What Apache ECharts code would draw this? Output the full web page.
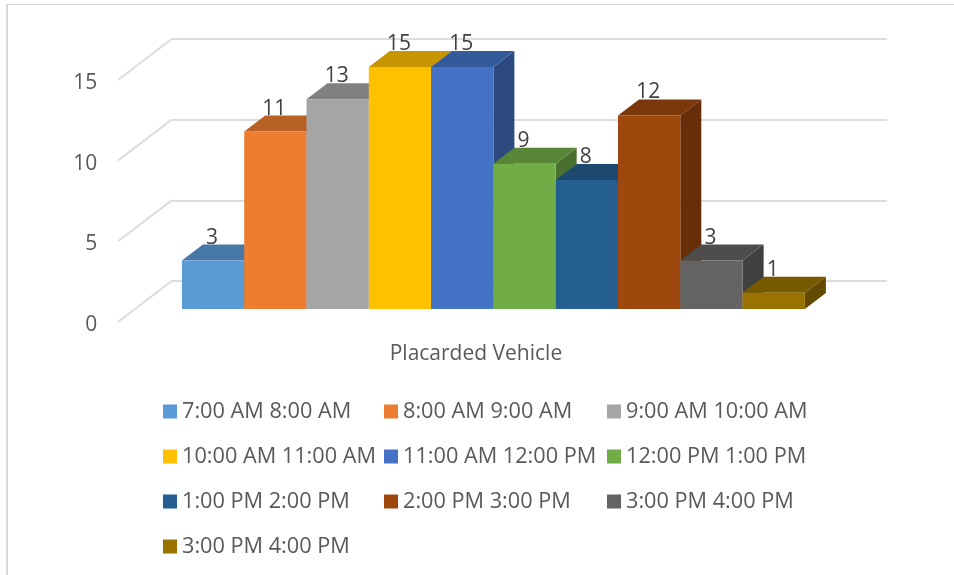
<!DOCTYPE html>
<html>
<head>
<meta charset="utf-8">
<style>html,body{margin:0;padding:0;background:#fff}#chart{width:954px;height:575px}</style>
<script src="https://cdn.jsdelivr.net/npm/echarts@6/dist/echarts.min.js"></script>
</head>
<body>
<div id="chart"></div>
<script>
// Vehicle counts per one-hour window, drawn as a faux 3D column chart.
const categoryLabels = ['Placarded Vehicle'];
const seriesNames = ['7:00 AM 8:00 AM','8:00 AM 9:00 AM','9:00 AM 10:00 AM','10:00 AM 11:00 AM','11:00 AM 12:00 PM','12:00 PM 1:00 PM','1:00 PM 2:00 PM','2:00 PM 3:00 PM','3:00 PM 4:00 PM','3:00 PM 4:00 PM'];
const seriesValues = [3,11,13,15,15,9,8,12,3,1];
const frontColors = ['#5B9BD5','#ED7D31','#A5A5A5','#FFC000','#4472C4','#70AD47','#255E91','#9E480E','#636363','#997300'];
const topColors = ['#4878A6','#B86125','#808080','#C69500','#355A9B','#578637','#1D4971','#7B380B','#4D4D4D','#775900'];
const sideColors = ['#3B6389','#9B5120','#6B6B6B','#A67D00','#2C4A80','#49702E','#183D5F','#662F09','#404040','#634A00'];
const axisTicks = [0,5,10,15];

const DEPTH_X = 21, DEPTH_Y = 16;       // column depth in pixels
const WALL_X = 53.4, WALL_Y = 40.7;     // floor run from the front plane to the back wall
const BAR_SPAN = 0.87096;               // share of the band filled by the columns
const FONT = '"Open Sans"';
const GREY = '#595959';
const GRID_GREY = '#DDDDDD';

// One column: front face, top face, right face and its value label.
function columnRenderer(index) {
  return function (params, api) {
    const value = api.value(1);
    const top = api.coord([0, value]);
    const base = api.coord([0, 0]);
    const band = api.size([1, 0])[0];
    const w = band * BAR_SPAN / seriesValues.length;
    const x0 = top[0] - w * seriesValues.length / 2 + w * index;
    const x1 = x0 + w;
    const poly = (pts, fill) => ({ type: 'polygon', shape: { points: pts }, style: { fill: fill } });
    return {
      type: 'group',
      children: [
        poly([[x1, top[1]], [x1 + DEPTH_X, top[1] - DEPTH_Y], [x1 + DEPTH_X, base[1] - DEPTH_Y], [x1, base[1]]], sideColors[index]),
        poly([[x0, top[1]], [x0 + DEPTH_X, top[1] - DEPTH_Y], [x1 + DEPTH_X, top[1] - DEPTH_Y], [x1, top[1]]], topColors[index]),
        poly([[x0, base[1]], [x0, top[1]], [x1, top[1]], [x1, base[1]]], frontColors[index]),
        {
          type: 'text', z2: 10,
          style: {
            text: String(value), x: (x0 + x1) / 2 - 1, y: top[1] - DEPTH_Y + 3.5,
            align: 'center', verticalAlign: 'bottom',
            fill: '#404040', font: '21px ' + FONT
          }
        }
      ]
    };
  };
}

// Diagonals running forward from the back wall's gridlines along the side wall.
function diagonalRenderer(params, api) {
  const p = api.coord([0, api.value(1)]);
  const x = p[0] - api.size([1, 0])[0] / 2;
  return {
    type: 'line',
    shape: { x1: x, y1: p[1], x2: x - WALL_X, y2: p[1] + WALL_Y },
    style: { stroke: GRID_GREY, lineWidth: 2 }
  };
}

const columnSeries = seriesNames.map((name, i) => ({
  name: name,
  type: 'custom',
  xAxisIndex: 2, yAxisIndex: 2,
  z: 5 + i,
  itemStyle: { color: frontColors[i] },
  encode: { x: 0, y: 1 },
  renderItem: columnRenderer(i),
  data: [[0, seriesValues[i]]]
}));

const legendColumn = (left, idx) => ({
  left: left, top: 400.5, orient: 'vertical', selectedMode: false,
  itemWidth: 14, itemHeight: 14, itemGap: 23, padding: 0,
  icon: 'rect',
  textStyle: { fontFamily: FONT, fontSize: 21.7, color: GREY },
  data: idx.map(i => ({ name: seriesNames[i], itemStyle: { color: frontColors[i] } }))
});

const chart = echarts.init(document.getElementById('chart'), null, { renderer: 'canvas' });
chart.setOption({
  animation: false,
  backgroundColor: '#fff',
  // Thin frame along the top and left edges of the chart area.
  graphic: [
    { type: 'rect', shape: { x: 6, y: 4, width: 948, height: 1 }, style: { fill: '#D9D9D9' }, silent: true },
    { type: 'rect', shape: { x: 6, y: 4, width: 2, height: 571 }, style: { fill: '#D9D9D9' }, silent: true }
  ],
  legend: [
    legendColumn(163, [0, 3, 6, 9]),
    legendColumn(384, [1, 4, 7]),
    legendColumn(607, [2, 5, 8])
  ],
  grid: [
    { left: 171.7, top: 39, width: 715.3, height: 242 },    // back wall
    { left: 118.3, top: 83, width: 715.3, height: 241.7 },  // front plane, carries the labels
    { left: 135.75, top: 67, width: 715.3, height: 242 }    // column plane
  ],
  xAxis: [
    { gridIndex: 0, type: 'category', data: categoryLabels, axisLine: { show: false }, axisTick: { show: false }, axisLabel: { show: false } },
    { gridIndex: 1, type: 'category', data: categoryLabels, axisLine: { show: false }, axisTick: { show: false },
      axisLabel: { margin: 19, fontFamily: FONT, fontSize: 21, color: GREY } },
    { gridIndex: 2, type: 'category', data: categoryLabels, axisLine: { show: false }, axisTick: { show: false }, axisLabel: { show: false } }
  ],
  yAxis: [
    { gridIndex: 0, type: 'value', min: 0, max: 15, interval: 5, axisLine: { show: false }, axisTick: { show: false }, axisLabel: { show: false },
      splitLine: { show: true, lineStyle: { color: GRID_GREY, width: 2 } } },
    { gridIndex: 1, type: 'value', min: 0, max: 15, interval: 5, axisLine: { show: false }, axisTick: { show: false }, splitLine: { show: false },
      axisLabel: { margin: 21, fontFamily: FONT, fontSize: 21, color: GREY } },
    { gridIndex: 2, type: 'value', min: 0, max: 15, interval: 5, axisLine: { show: false }, axisTick: { show: false }, splitLine: { show: false }, axisLabel: { show: false } }
  ],
  series: [
    {
      type: 'custom', xAxisIndex: 0, yAxisIndex: 0, z: 1, silent: true,
      encode: { x: 0, y: 1 },
      renderItem: diagonalRenderer,
      data: axisTicks.map(t => [0, t])
    }
  ].concat(columnSeries)
});
</script>
</body>
</html>
